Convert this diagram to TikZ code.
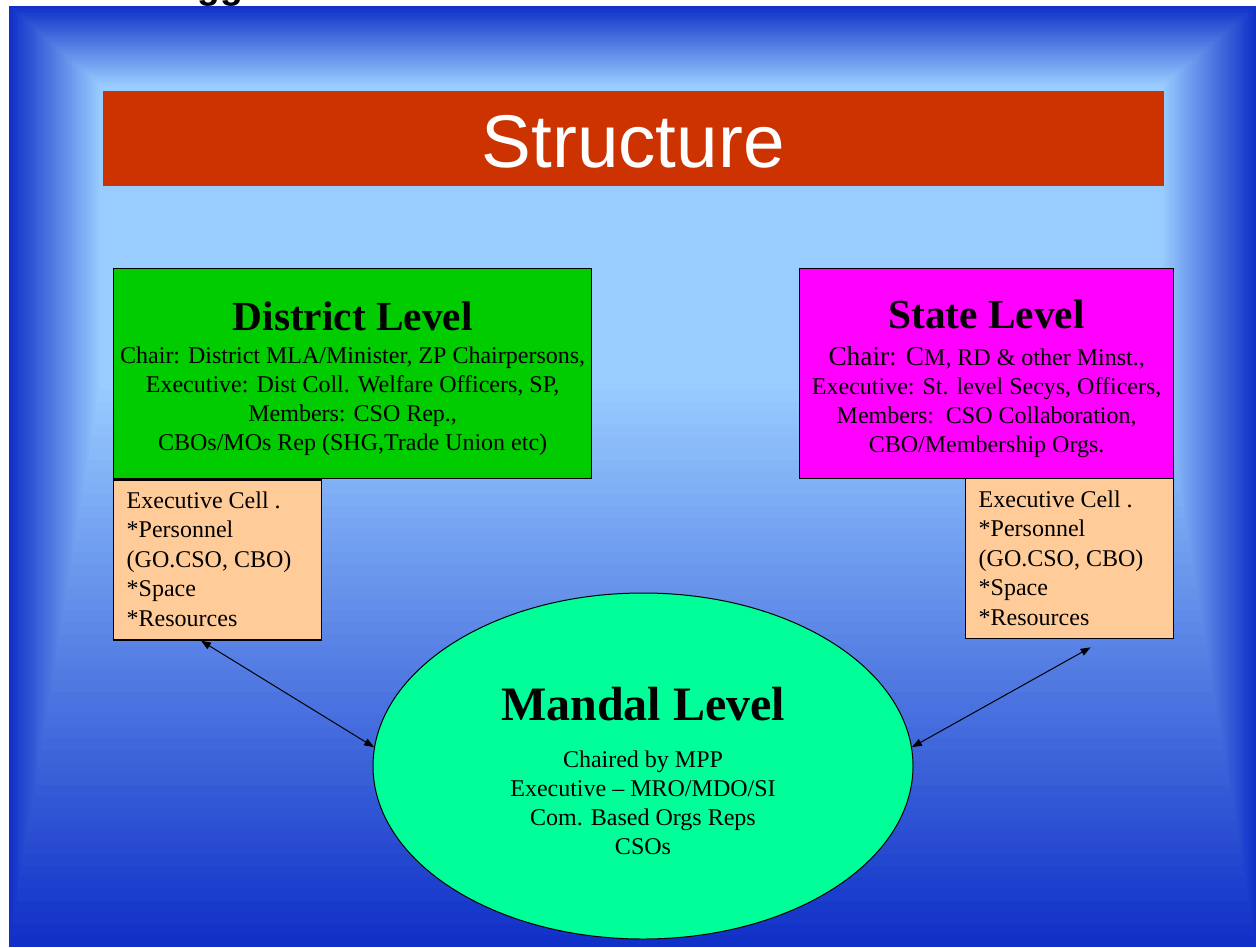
\documentclass[tikz,border=0pt]{standalone}
\usepackage{fontspec}
\setmainfont{Liberation Serif}
\newfontfamily\arialfont{Liberation Sans}
\usetikzlibrary{shapes.geometric}
\usetikzlibrary{arrows.meta}
\usetikzlibrary{calc}
\newlength\upx
\setlength\upx{0.75pt}
\definecolor{bgdark}{RGB}{16,48,200}
\definecolor{bglight}{RGB}{153,204,255}
\definecolor{titlered}{RGB}{204,51,0}
\definecolor{distgreen}{RGB}{0,204,0}
\definecolor{statemag}{RGB}{255,0,255}
\definecolor{cellpeach}{RGB}{255,204,153}
\definecolor{mandalgreen}{RGB}{0,255,153}

\begin{document}
\begin{tikzpicture}[x=0.75pt, y=-0.75pt,
  levelbox/.style={draw=black, line width=1pt, inner sep=0pt, anchor=north west},
  levelhead/.style={font=\bfseries\fontsize{31}{34}\selectfont},
  levelbody/.style={align=center, font=\fontsize{18}{21.75}\selectfont},
  cellbody/.style={align=left, font=\fontsize{18}{22.1}\selectfont},
  link/.style={line width=0.75pt, {Triangle[length=7.5pt,width=5.5pt]}-{Triangle[length=7.5pt,width=5.5pt]}}]
  \clip (0,0) rectangle (1256,947);
  \useasboundingbox (0,0) rectangle (1256,947);
  \fill[white] (0,0) rectangle (1256,947);
  % cut-off heading above the slide
  \node[anchor=base west, inner sep=0pt, font=\arialfont\bfseries\fontsize{28}{30}\selectfont] (cutoff) at (197,-2) {gg};
  % slide background, rectangular gradient
  \foreach \k in {0,...,48}{
    \pgfmathsetmacro\frac{\k/48}
    \pgfmathsetmacro\mix{100-100*\frac}
    \fill[bgdark!\mix!bglight] (9+91*\frac, 6+79*\frac) rectangle (1256-93*\frac, 947-557*\frac);
  }
  % title bar
  \node[levelbox, draw=none, fill=titlered, minimum width=1061*\upx, minimum height=95*\upx] (titlebar) at (102,90) {};
  \node[anchor=base, text=white, font=\arialfont\fontsize{56}{60}\selectfont] (title) at ($(titlebar.south)+(0,-19)$) {Structure};
  % district level
  \node[levelbox, fill=distgreen, minimum width=478*\upx, minimum height=210*\upx] (district) at (113,268) {};
  \node[levelhead, anchor=base] (districthead) at ($(district.north)+(0,62)$) {District Level};
  \node[levelbody, anchor=base] (districtbody) at ($(district.north)+(0,182)$)
    {Chair: District MLA/Minister, ZP Chairpersons,\\Executive: Dist Coll. Welfare Officers, SP,\\Members: CSO Rep.,\\CBOs/MOs Rep (SHG,Trade Union etc)};
  \node[levelbox, fill=cellpeach, minimum width=208*\upx, minimum height=160*\upx] (dcell) at (district.south west) {};
  \node[cellbody, anchor=base west] (dcelltext) at ($(dcell.north west)+(9,147)$)
    {Executive Cell .\\*Personnel\\(GO.CSO, CBO)\\*Space\\*Resources};
  % state level
  \node[levelbox, fill=statemag, minimum width=374*\upx, minimum height=210*\upx] (state) at (799,268) {};
  \node[levelhead, anchor=base] (statehead) at ($(state.north)+(0,60)$) {State Level};
  \node[levelbody, anchor=base] (statebody) at ($(state.north)+(0,184)$)
    {{\fontsize{20.5}{21.75}\selectfont Chair: C}M, RD \& other Minst.,\\Executive: St. level Secys, Officers,\\Members:\ \ CSO Collaboration,\\CBO/Membership Orgs.};
  \node[levelbox, fill=cellpeach, minimum width=208*\upx, minimum height=160*\upx] (scell) at (965,478) {};
  \node[cellbody, anchor=base west] (scelltext) at ($(scell.north west)+(9,147)$)
    {Executive Cell .\\*Personnel\\(GO.CSO, CBO)\\*Space\\*Resources};
  % mandal level
  \node[draw=black, line width=0.75pt, ellipse, fill=mandalgreen, inner sep=0pt,
    minimum width=540*\upx, minimum height=346*\upx] (mandal) at (643,766) {};
  \node[anchor=base, font=\bfseries\fontsize{36}{40}\selectfont] (mandalhead) at ($(mandal.center)+(0,-46)$) {Mandal Level};
  \node[levelbody, anchor=base] (mandalbody) at ($(mandal.center)+(0,88)$)
    {Chaired by MPP\\Executive -- MRO/MDO/SI\\Com. Based Orgs Reps\\CSOs};
  % links
  \coordinate (dtip) at ($(dcell.south west)!0.42!(dcell.south east)$);
  \coordinate (stip) at ($(scell.south)+(21,8)$);
  \draw[link] (dtip) -- (mandal.176);
  \draw[link] (mandal.4) -- (stip);
\end{tikzpicture}
\end{document}
